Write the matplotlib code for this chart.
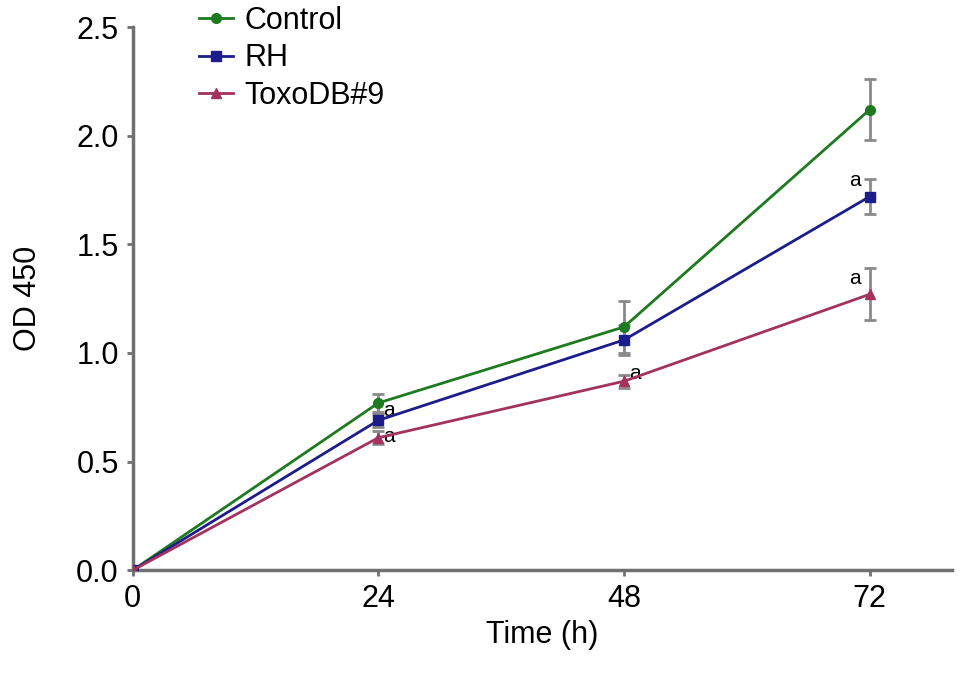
import matplotlib
matplotlib.use('Agg')
import matplotlib.pyplot as plt
from matplotlib.lines import Line2D

plt.rcParams['font.family'] = ['Liberation Sans', 'DejaVu Sans']

hours = [0, 24, 48, 72]
control = [0.0, 0.77, 1.12, 2.12]
control_err = [0.0, 0.04, 0.12, 0.14]
rh = [0.0, 0.69, 1.06, 1.72]
rh_err = [0.0, 0.03, 0.07, 0.08]
toxo = [0.0, 0.61, 0.87, 1.27]
toxo_err = [0.0, 0.03, 0.03, 0.12]

# where the "a" marks go (series, time index, vertical nudge)
marks = [('RH', 1, 0.045), ('ToxoDB#9', 1, 0.005), ('ToxoDB#9', 2, 0.035),
         ('RH', 3, 0.03), ('ToxoDB#9', 3, 0.03)]

fig = plt.figure(figsize=(9.69, 6.78), dpi=100)
ax = fig.add_axes([0.137, 0.159, 0.845, 0.801])

series = {
    'Control': (control, control_err, '#1e7a1e', 'o'),
    'RH': (rh, rh_err, '#1c1c8a', 's'),
    'ToxoDB#9': (toxo, toxo_err, '#a3325e', '^'),
}
handles = []
for name, (vals, err, col, mk) in series.items():
    ax.errorbar(hours, vals, yerr=err, color=col, marker=mk, markersize=7,
                linewidth=2, ecolor='#8a8a8a', elinewidth=2, capsize=4,
                capthick=2, zorder=3)
    handles.append(Line2D([], [], color=col, marker=mk, markersize=7,
                          linewidth=2, label=name))

for name, i, dy in marks:
    vals = series[name][0]
    if i == 3:
        ax.text(hours[i] - 0.9, vals[i] + dy, 'a', fontsize=15, ha='right', va='bottom')
    else:
        ax.text(hours[i] + 0.5, vals[i] + dy, 'a', fontsize=15, ha='left', va='center')

ax.set_xlim(0, 80)
ax.set_ylim(0, 2.5)
ax.set_xticks(hours)
ax.set_yticks([0, 0.5, 1.0, 1.5, 2.0, 2.5])
ax.set_yticklabels(['0.0', '0.5', '1.0', '1.5', '2.0', '2.5'])
ax.tick_params(labelsize=22, length=4, width=2, color='#707070', pad=6)
for s in ['top', 'right']:
    ax.spines[s].set_visible(False)
for s in ['left', 'bottom']:
    ax.spines[s].set_color('#707070')
    ax.spines[s].set_linewidth(2.5)
for s in ax.spines.values():
    s.set_clip_on(False)

ax.set_xlabel('Time (h)', fontsize=22, labelpad=4)
ax.set_ylabel('OD 450', fontsize=22, labelpad=24)

ax.legend(handles=handles, loc='upper left', bbox_to_anchor=(0.066, 1.062),
          frameon=False, fontsize=22, handlelength=1.1, handletextpad=0.4,
          labelspacing=0.25, borderaxespad=0)

fig.savefig('out.png', dpi=100)
